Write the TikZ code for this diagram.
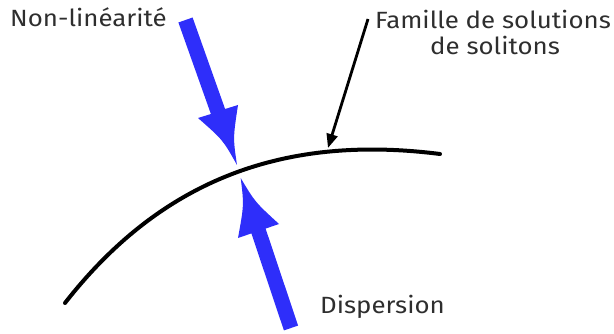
\documentclass[tikz,border=0pt]{standalone}
\usepackage{fontspec}
\setmainfont{Fira Sans}[FakeStretch=1.1]
\usetikzlibrary{arrows.meta}
\definecolor{arrowblue}{RGB}{46,46,250}
\tikzset{
  lbl/.style={inner sep=0pt, font=\fontsize{23.5}{26}\selectfont, text=black!82},
  bigarrow/.style={fill=arrowblue, draw=none},
  curveline/.style={line width=4pt, line cap=round},
  pointer/.style={line width=2.8pt, -{Triangle[length=14pt,width=11pt]}}
}
\begin{document}
\begin{tikzpicture}[x=1pt,y=-1pt]
\useasboundingbox (0,0) rectangle (614,334);
% curve
\draw[curveline] (65,303) .. controls (165,175) and (290,135) .. (440,154);
\coordinate (ctop) at (328,148);
% labels
\node[lbl, anchor=base west] (nl) at (10,27) {Non-linéarité};
\node[lbl, anchor=base] (fam1) at (493,29) {Famille de solutions};
\node[lbl, anchor=base] (fam2) at (495,55) {de solitons};
\node[lbl, anchor=base west] (disp) at (320,313) {Dispersion};
\coordinate (pstart) at (368,19);
\draw[pointer] (pstart) -- (ctop);
% upper blue arrow
\fill[bigarrow] (178.4,22.5) -- (192.6,17.5) -- (225.1,109) -- (238,105)
  .. controls (233,138) .. (237,165)
  .. controls (223,140) .. (198,118) -- (210.9,114) -- cycle;
% lower blue arrow
\fill[bigarrow] (298.1,325.6) -- (283.9,330.4) -- (251.4,233.4) -- (238,238)
  .. controls (244,205) .. (240.7,178)
  .. controls (255,202) .. (279,224) -- (265.6,228.6) -- cycle;
\end{tikzpicture}
\end{document}
